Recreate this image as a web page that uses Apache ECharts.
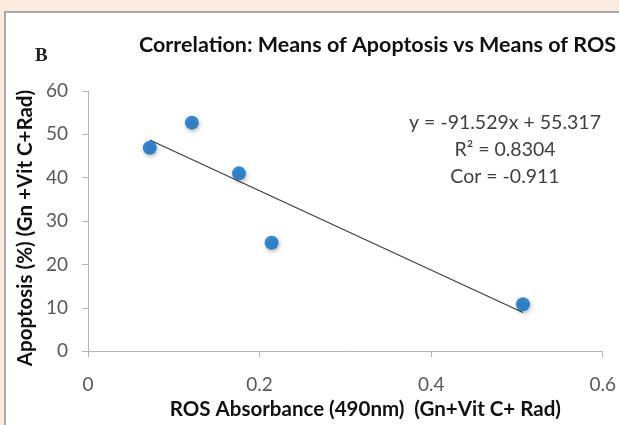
<!DOCTYPE html>
<html>
<head>
<meta charset="utf-8">
<script src="https://cdn.jsdelivr.net/npm/echarts@6/dist/echarts.min.js"></script>
<style>
  html, body { margin: 0; padding: 0; background: #fbeade; }
  #chart { width: 619px; height: 425px; }
</style>
</head>
<body>
<div id="chart"></div>
<script>
  // means
  const rosAbsorbance = [0.072, 0.121, 0.176, 0.214, 0.507]
  const apoptosis = [46.9, 52.7, 41.0, 25.0, 10.8]
  // trend line end points (as drawn)
  const trendX = [0.072, 0.507]
  const trendY = [48.7, 8.9]
  const xTicks = [0, 0.2, 0.4, 0.6]
  const yTicks = [0, 10, 20, 30, 40, 50, 60]
  const eqLines = ['y = -91.529x + 55.317', 'R\u00b2 = 0.8304', 'Cor = -0.911']

  const font = 'Lato, "Open Sans", sans-serif'
  let charts = echarts.init(document.getElementById('chart'))
  let option = {
    backgroundColor: '#fbeade',
    animation: false,
    textStyle: { fontFamily: font },
    graphic: [
      {
        type: 'rect', z: -10,
        shape: { x: 5, y: 12, width: 640, height: 440 },
        style: { fill: '#ffffff', stroke: '#a8a8a8', lineWidth: 2 }
      },
      {
        type: 'text', x: 35, y: 56,
        style: { text: 'B', font: 'bold 19px "Liberation Serif", serif', fill: '#222', verticalAlign: 'middle' }
      },
      {
        type: 'text', x: 139, y: 45,
        style: { text: 'Correlation: Means of Apoptosis vs Means of ROS', font: 'bold 21.5px ' + font, fill: '#111', verticalAlign: 'middle' }
      },
      {
        // y axis title, placed by hand so it sits like the original
        type: 'text', x: 25, y: 228, rotation: Math.PI / 2,
        style: { text: 'Apoptosis (%) (Gn +Vit C+Rad)', font: 'bold 20.5px ' + font, fill: '#111', align: 'center', verticalAlign: 'middle' }
      }
    ].concat(eqLines.map((t, i) => ({
      type: 'text', x: 505, y: 123 + i * 27,
      style: { text: t, font: '19.5px ' + font, fill: '#404040', align: 'center', verticalAlign: 'middle' }
    }))),
    grid: { left: 88, right: 15, top: 91, bottom: 72 },
    xAxis: {
      type: 'value',
      min: xTicks[0], max: xTicks[xTicks.length - 1], interval: 0.2,
      name: 'ROS Absorbance (490nm)  (Gn+Vit C+ Rad)',
      nameLocation: 'middle', nameGap: 46,
      nameTextStyle: { fontWeight: 'bold', fontSize: 20.5, color: '#111', padding: [0, 0, 0, 40] },
      splitLine: { show: false },
      axisLine: { show: true, lineStyle: { color: '#b5b5b5' } },
      axisTick: { show: true, length: 6, lineStyle: { color: '#b5b5b5' } },
      axisLabel: { color: '#595959', fontSize: 19, margin: 24 }
    },
    yAxis: {
      type: 'value',
      min: yTicks[0], max: yTicks[yTicks.length - 1], interval: 10,
      splitLine: { show: false },
      axisLine: { show: true, lineStyle: { color: '#b5b5b5' } },
      axisTick: { show: true, length: 6, lineStyle: { color: '#b5b5b5' } },
      axisLabel: { color: '#595959', fontSize: 19, margin: 20 }
    },
    series: [
      {
        type: 'line',
        data: trendX.map((x, i) => [x, trendY[i]]),
        symbol: 'none',
        lineStyle: { color: '#404040', width: 1.3 },
        z: 2
      },
      {
        type: 'scatter',
        data: rosAbsorbance.map((x, i) => [x, apoptosis[i]]),
        symbolSize: 14,
        itemStyle: {
          color: '#0a6fc8',
          shadowBlur: 4, shadowOffsetX: 1, shadowOffsetY: 2,
          shadowColor: 'rgba(0,0,0,0.35)'
        },
        z: 3
      }
    ]
  }
  charts.setOption(option)
  window.addEventListener('resize', () => {
    charts.resize()
  })
</script>
</body>
</html>
